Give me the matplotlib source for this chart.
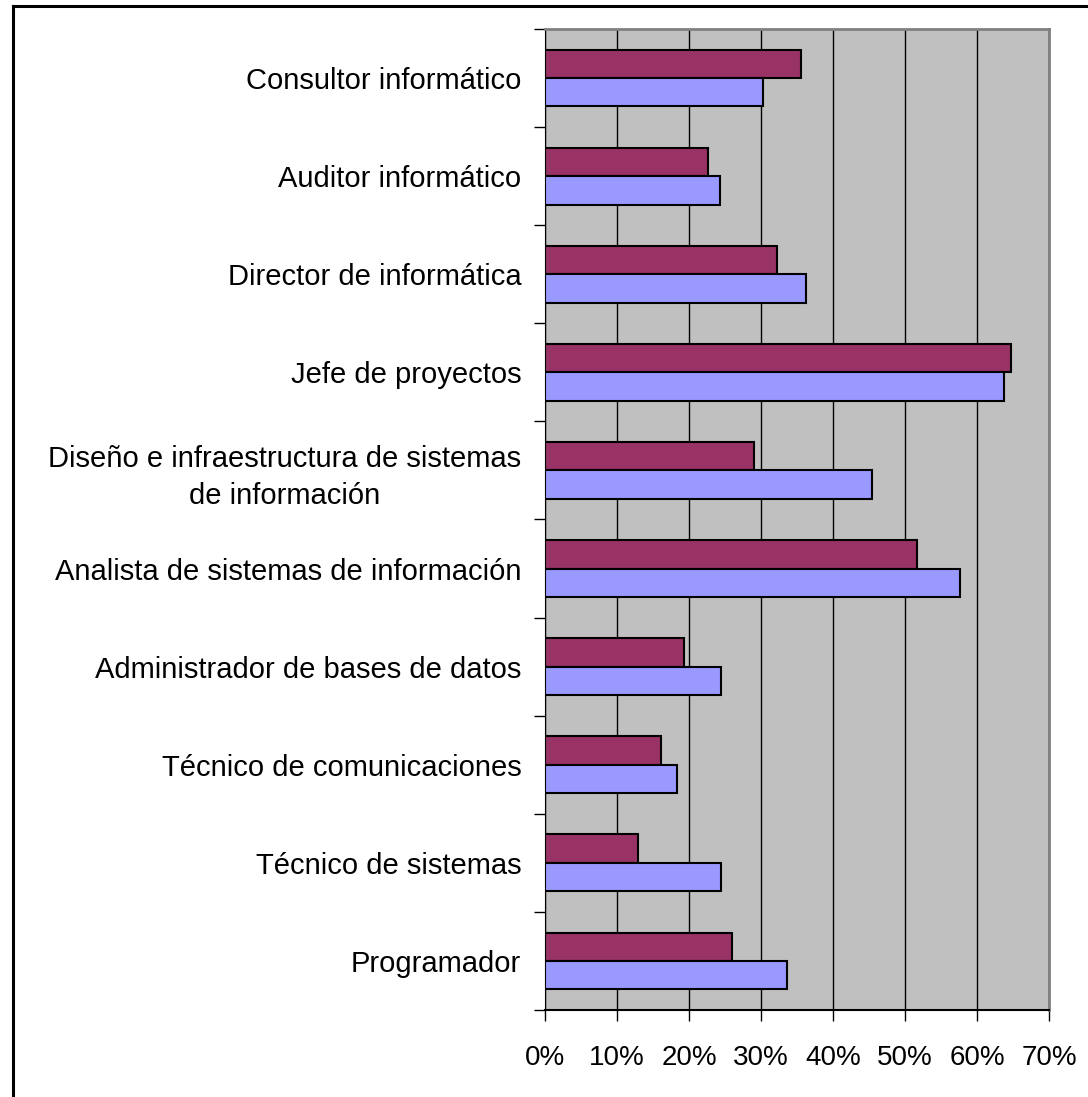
import numpy as np
import matplotlib.pyplot as plt
from matplotlib.lines import Line2D
from matplotlib.ticker import FixedLocator, PercentFormatter

plt.rcParams['font.family'] = ['Liberation Sans', 'DejaVu Sans']

# categories from bottom to top
categorias = ["Programador", "Técnico de sistemas", "Técnico de comunicaciones",
              "Administrador de bases de datos", "Analista de sistemas de información",
              "Diseño e infraestructura de sistemas\nde información", "Jefe de proyectos",
              "Director de informática", "Auditor informático", "Consultor informático"]
serie_granate = [26.0, 12.9, 16.1, 19.3, 51.7, 29.0, 64.7, 32.2, 22.7, 35.6]
serie_azul = [33.6, 24.4, 18.3, 24.4, 57.6, 45.4, 63.7, 36.3, 24.3, 30.3]
xticks = [0, 10, 20, 30, 40, 50, 60, 70]

fig = plt.figure(figsize=(10.88, 10.97), dpi=100)
ax = fig.add_axes([0.5009, 0.0793, 0.9642 - 0.5009, 0.9736 - 0.0793])
ax.set_facecolor('#C0C0C0')

y = np.arange(len(categorias))
h = 0.29
ax.barh(y + h / 2, serie_granate, height=h, color='#993366', edgecolor='black', linewidth=1.5, zorder=3)
ax.barh(y - h / 2, serie_azul, height=h, color='#9999FF', edgecolor='black', linewidth=1.5, zorder=3)

ax.set_xlim(0, 70)
ax.set_ylim(-0.5, len(categorias) - 0.5)
ax.set_xticks(xticks)
ax.xaxis.set_major_formatter(PercentFormatter(decimals=0))
ax.grid(axis='x', color='black', linewidth=1, zorder=1)

ax.set_yticks(y)
ax.set_yticklabels(categorias, fontsize=21, ha='right', multialignment='center', linespacing=1.4)
ax.yaxis.set_minor_locator(FixedLocator(np.arange(-0.5, len(categorias), 1)))
ax.tick_params(axis='y', which='major', length=0, pad=17)
ax.tick_params(axis='y', which='minor', length=8, width=1, direction='out')
ax.tick_params(axis='x', length=8, width=1, direction='out', labelsize=20, pad=17)

for s in ['top', 'right']:
    ax.spines[s].set_color('#808080')
    ax.spines[s].set_linewidth(2)
ax.spines['left'].set_color('black')
ax.spines['bottom'].set_color('black')
ax.spines['bottom'].set_linewidth(1.5)

# outer chart frame (only left and top visible)
fig.add_artist(Line2D([13 / 1088, 13 / 1088], [0, 1 - 6 / 1097], color='black', linewidth=2.2, transform=fig.transFigure))
fig.add_artist(Line2D([13 / 1088, 1], [1 - 6 / 1097, 1 - 6 / 1097], color='black', linewidth=2.2, transform=fig.transFigure))

fig.savefig('out.png', dpi=100)
